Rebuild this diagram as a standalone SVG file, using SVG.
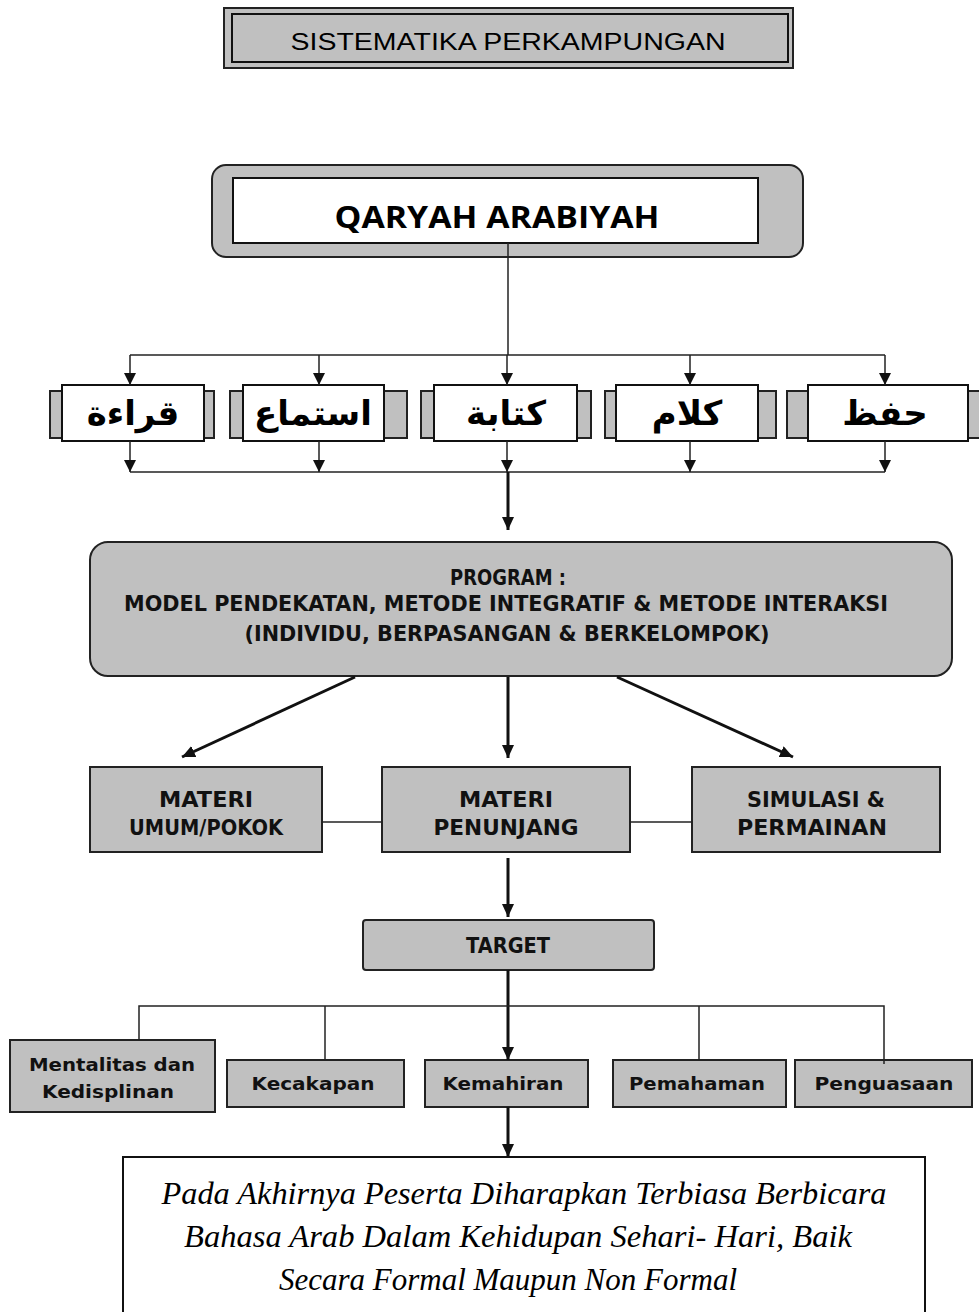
<svg xmlns="http://www.w3.org/2000/svg" width="979" height="1312" viewBox="0 0 979 1312">
<defs>
<marker id="ah" markerUnits="userSpaceOnUse" markerWidth="14" markerHeight="14" refX="13" refY="6" orient="auto"><path d="M0,0 L13,6 L0,12 z" fill="#111"/></marker>
<marker id="ahs" markerUnits="userSpaceOnUse" markerWidth="14" markerHeight="14" refX="12" refY="6" orient="auto"><path d="M0,0 L12,6 L0,12 z" fill="#111"/></marker>
<style>
.g{fill:#c0c0c0;stroke:#222;stroke-width:2}
.w{fill:#fff;stroke:#111;stroke-width:2}
.ln{fill:none;stroke:#222;stroke-width:1.5}
.lb{fill:none;stroke:#111;stroke-width:3}
.ar{font-family:"DejaVu Sans",sans-serif;font-weight:bold;font-size:34px;text-anchor:middle;fill:#000}
.pg{font-family:"DejaVu Sans","Liberation Sans",sans-serif;font-weight:bold;font-size:21px;text-anchor:middle;fill:#111}
.tg{font-family:"DejaVu Sans",sans-serif;font-weight:bold;font-size:18px;text-anchor:middle;fill:#111}
.sc{font-family:"Liberation Serif",serif;font-style:italic;font-size:31px;text-anchor:middle;fill:#000}
</style>
</defs>
<g id="title">
<rect x="224" y="8" width="569" height="60" fill="#c0c0c0" stroke="#222" stroke-width="2"/>
<rect x="232" y="14" width="556" height="48" fill="#c0c0c0" stroke="#111" stroke-width="2"/>
<text x="508" y="50" font-family="Liberation Sans,sans-serif" font-size="23" text-anchor="middle" textLength="435" lengthAdjust="spacingAndGlyphs" fill="#000">SISTEMATIKA PERKAMPUNGAN</text>
</g>
<g id="qaryah">
<rect x="212" y="165" width="591" height="92" rx="14" class="g"/>
<rect x="233" y="178" width="525" height="65" class="w"/>
<text x="497" y="228" font-family="Open Sans,sans-serif" font-weight="bold" font-size="31" text-anchor="middle" textLength="325" lengthAdjust="spacingAndGlyphs" fill="#000">QARYAH ARABIYAH</text>
</g>
<g id="qiraah">
<rect x="50" y="391" width="12" height="47" class="g" stroke-width="1"/>
<rect x="204" y="391" width="10" height="47" class="g" stroke-width="1"/>
<rect x="62" y="385" width="142" height="56" class="w"/>
<text x="133" y="425" class="ar">قراءة</text>
</g>
<g id="istima">
<rect x="230" y="391" width="13" height="47" class="g" stroke-width="1"/>
<rect x="384" y="391" width="23" height="47" class="g" stroke-width="1"/>
<rect x="243" y="385" width="141" height="56" class="w"/>
<text x="313" y="425" class="ar">استماع</text>
</g>
<g id="kitabah">
<rect x="421" y="391" width="13" height="47" class="g" stroke-width="1"/>
<rect x="577" y="391" width="14" height="47" class="g" stroke-width="1"/>
<rect x="434" y="385" width="143" height="56" class="w"/>
<text x="506" y="425" class="ar">كتابة</text>
</g>
<g id="kalam">
<rect x="605" y="391" width="11" height="47" class="g" stroke-width="1"/>
<rect x="758" y="391" width="18" height="47" class="g" stroke-width="1"/>
<rect x="616" y="385" width="142" height="56" class="w"/>
<text x="687" y="425" class="ar">كلام</text>
</g>
<g id="hifzh">
<rect x="787" y="391" width="21" height="47" class="g" stroke-width="1"/>
<rect x="968" y="391" width="12" height="47" class="g" stroke-width="1"/>
<rect x="808" y="385" width="160" height="56" class="w"/>
<text x="885" y="425" class="ar">حفظ</text>
</g>
<g id="program">
<rect x="90" y="542" width="862" height="134" rx="18" class="g"/>
<text x="508" y="585" class="pg" textLength="116" lengthAdjust="spacingAndGlyphs">PROGRAM :</text>
<text x="506" y="611" class="pg" textLength="764" lengthAdjust="spacingAndGlyphs">MODEL PENDEKATAN, METODE INTEGRATIF &amp; METODE INTERAKSI</text>
<text x="507" y="641" class="pg" textLength="525" lengthAdjust="spacingAndGlyphs">(INDIVIDU, BERPASANGAN &amp; BERKELOMPOK)</text>
</g>
<g id="materi-umum">
<rect x="90" y="767" width="232" height="85" class="g"/>
<text x="206" y="807" class="pg" textLength="94" lengthAdjust="spacingAndGlyphs">MATERI</text>
<text x="206" y="835" class="pg" textLength="154" lengthAdjust="spacingAndGlyphs">UMUM/POKOK</text>
</g>
<g id="materi-penunjang">
<rect x="382" y="767" width="248" height="85" class="g"/>
<text x="506" y="807" class="pg" textLength="94" lengthAdjust="spacingAndGlyphs">MATERI</text>
<text x="506" y="835" class="pg" textLength="145" lengthAdjust="spacingAndGlyphs">PENUNJANG</text>
</g>
<g id="simulasi">
<rect x="692" y="767" width="248" height="85" class="g"/>
<text x="816" y="807" class="pg" textLength="138" lengthAdjust="spacingAndGlyphs">SIMULASI &amp;</text>
<text x="812" y="835" class="pg" textLength="150" lengthAdjust="spacingAndGlyphs">PERMAINAN</text>
</g>
<g id="target">
<rect x="363" y="920" width="291" height="50" rx="3" class="g"/>
<text x="508" y="953" class="pg" textLength="84" lengthAdjust="spacingAndGlyphs">TARGET</text>
</g>
<g id="mentalitas">
<rect x="10" y="1040" width="205" height="72" class="g"/>
<text x="112" y="1071" class="tg" textLength="166" lengthAdjust="spacingAndGlyphs">Mentalitas dan</text>
<text x="108" y="1098" class="tg" textLength="132" lengthAdjust="spacingAndGlyphs">Kedisplinan</text>
</g>
<g id="kecakapan">
<rect x="227" y="1060" width="177" height="47" class="g"/>
<text x="313" y="1090" class="tg" textLength="123" lengthAdjust="spacingAndGlyphs">Kecakapan</text>
</g>
<g id="kemahiran">
<rect x="425" y="1060" width="163" height="47" class="g"/>
<text x="503" y="1090" class="tg" textLength="121" lengthAdjust="spacingAndGlyphs">Kemahiran</text>
</g>
<g id="pemahaman">
<rect x="613" y="1060" width="173" height="47" class="g"/>
<text x="697" y="1090" class="tg" textLength="136" lengthAdjust="spacingAndGlyphs">Pemahaman</text>
</g>
<g id="penguasaan">
<rect x="795" y="1060" width="177" height="47" class="g"/>
<text x="884" y="1090" class="tg" textLength="139" lengthAdjust="spacingAndGlyphs">Penguasaan</text>
</g>
<g id="conclusion">
<rect x="123" y="1157" width="802" height="170" fill="#fff" stroke="#111" stroke-width="2"/>
<text x="524" y="1204" class="sc" textLength="725" lengthAdjust="spacingAndGlyphs">Pada Akhirnya Peserta Diharapkan Terbiasa Berbicara</text>
<text x="518" y="1247" class="sc" textLength="668" lengthAdjust="spacingAndGlyphs">Bahasa Arab Dalam Kehidupan Sehari- Hari, Baik</text>
<text x="508" y="1290" class="sc" textLength="458" lengthAdjust="spacingAndGlyphs">Secara Formal Maupun Non Formal</text>
</g>
<g id="connectors">
<line x1="508" y1="243" x2="508" y2="355" class="ln"/>
<line x1="130" y1="355" x2="885" y2="355" class="ln"/>
<line x1="130" y1="355" x2="130" y2="385" class="ln" stroke-width="2" marker-end="url(#ahs)"/>
<line x1="319" y1="355" x2="319" y2="385" class="ln" stroke-width="2" marker-end="url(#ahs)"/>
<line x1="507" y1="355" x2="507" y2="385" class="ln" stroke-width="2.5" marker-end="url(#ahs)"/>
<line x1="690" y1="355" x2="690" y2="385" class="ln" stroke-width="2.5" marker-end="url(#ahs)"/>
<line x1="885" y1="355" x2="885" y2="385" class="ln" marker-end="url(#ahs)"/>
<line x1="130" y1="472" x2="885" y2="472" class="ln"/>
<line x1="130" y1="441" x2="130" y2="472" class="ln" stroke-width="2" marker-end="url(#ahs)"/>
<line x1="319" y1="441" x2="319" y2="472" class="ln" stroke-width="2" marker-end="url(#ahs)"/>
<line x1="507" y1="441" x2="507" y2="472" class="ln" stroke-width="2.5" marker-end="url(#ahs)"/>
<line x1="690" y1="441" x2="690" y2="472" class="ln" stroke-width="2.5" marker-end="url(#ahs)"/>
<line x1="885" y1="441" x2="885" y2="472" class="ln" marker-end="url(#ahs)"/>
<line x1="508" y1="472" x2="508" y2="530" class="lb" marker-end="url(#ah)"/>
<line x1="355" y1="677" x2="182" y2="757" class="lb" marker-end="url(#ah)"/>
<line x1="508" y1="677" x2="508" y2="758" class="lb" marker-end="url(#ah)"/>
<line x1="617" y1="677" x2="793" y2="757" class="lb" marker-end="url(#ah)"/>
<line x1="322" y1="822" x2="382" y2="822" class="ln"/>
<line x1="630" y1="822" x2="692" y2="822" class="ln"/>
<line x1="508" y1="858" x2="508" y2="917" class="lb" marker-end="url(#ah)"/>
<line x1="508" y1="970" x2="508" y2="1060" class="lb" marker-end="url(#ah)"/>
<polyline points="139,1040 139,1006 884,1006 884,1064" class="ln"/>
<line x1="325" y1="1006" x2="325" y2="1060" class="ln"/>
<line x1="699" y1="1006" x2="699" y2="1060" class="ln"/>
<line x1="508" y1="1107" x2="508" y2="1157" class="lb" marker-end="url(#ah)"/>
</g>
</svg>
